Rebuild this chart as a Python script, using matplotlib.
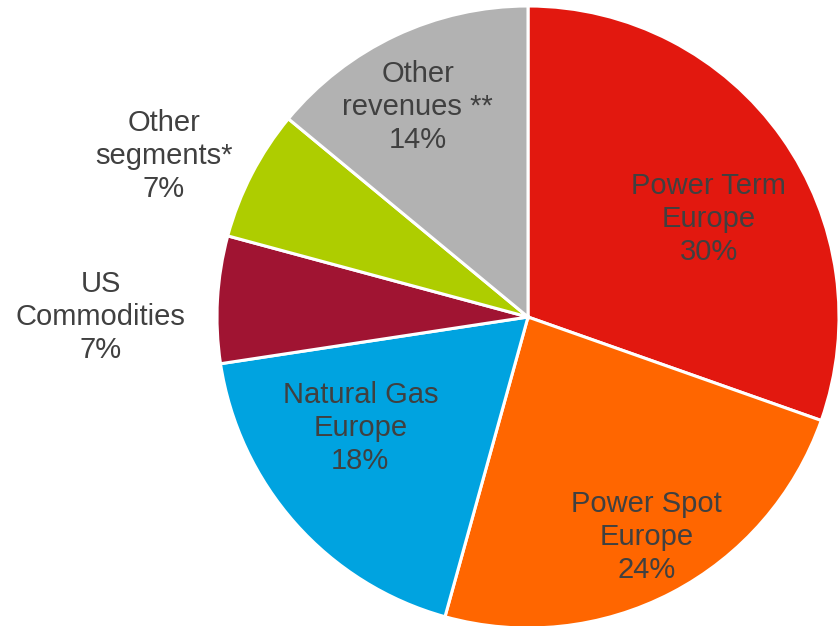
import matplotlib
matplotlib.use("Agg")
import matplotlib.pyplot as plt

categories = ["Power Term\nEurope", "Power Spot\nEurope", "Natural Gas\nEurope",
              "US\nCommodities", "Other\nsegments*", "Other\nrevenues **"]
shares = [30.4, 23.9, 18.3, 6.6, 6.8, 14.0]
colors = ["#E2180F", "#FF6600", "#00A3E0", "#A01432", "#AECD00", "#B2B2B2"]

# label anchor positions (pie radius = 1)
label_pos = [(0.581, 0.314), (0.381, -0.706), (-0.539, -0.357),
             (-1.374, 0.001), (-1.171, 0.517), (-0.355, 0.675)]

plt.rcParams['font.family'] = ['Liberation Sans', 'DejaVu Sans']

fig = plt.figure(figsize=(8.39, 6.26), dpi=100)
ax = fig.add_axes([0, 0, 1, 1])
ax.pie(shares, colors=colors, startangle=90, counterclock=False, radius=1.0,
       wedgeprops=dict(edgecolor="white", linewidth=2.2))
for cat, val, (x, y) in zip(categories, shares, label_pos):
    ax.text(x, y, f"{cat}\n{round(val):d}%", ha="center", va="center",
            fontsize=21, color="#404040", linespacing=1.23)
ax.set_aspect('equal')
ax.set_xlim(-528 / 311, (839 - 528) / 311)
ax.set_ylim(-(626 - 317) / 311, 317 / 311)
ax.axis('off')
fig.savefig("out.png", dpi=100)
